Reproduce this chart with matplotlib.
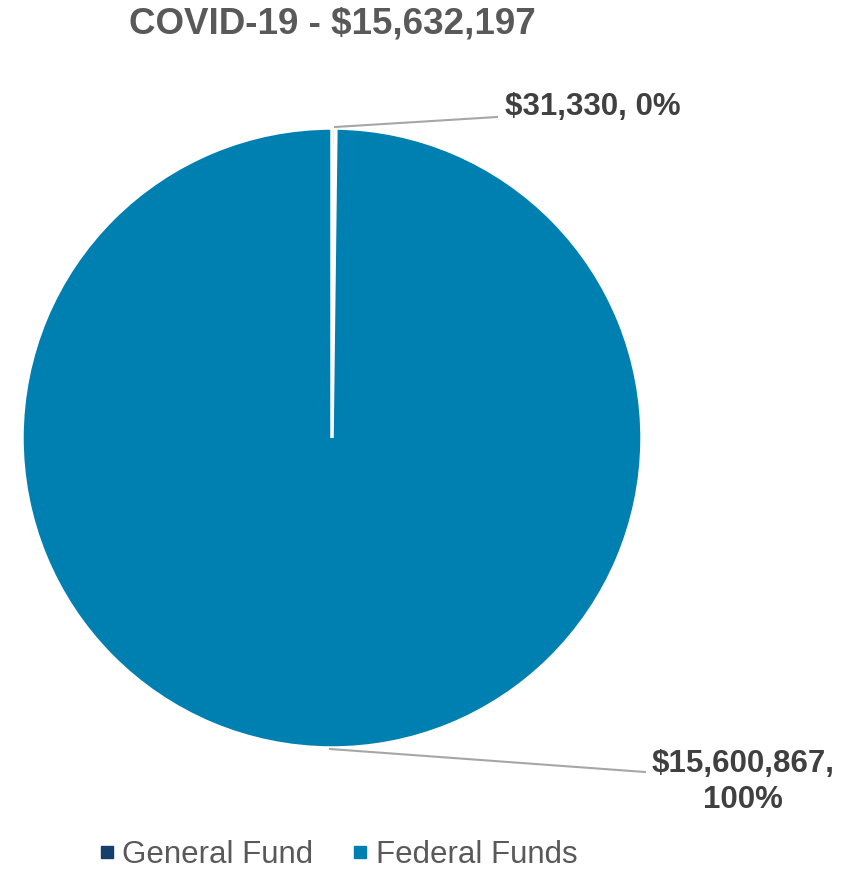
import matplotlib.pyplot as plt
from matplotlib.lines import Line2D

# 데이터
categories = ['General Fund', 'Federal Funds']
values = [31330, 15600867]
data_labels = ['$31,330, 0%', '$15,600,867,\n100%']
title = 'COVID-19 - $15,632,197'
colors = ['#16406C', '#0080B0']

plt.rcParams['font.family'] = ['Liberation Sans', 'DejaVu Sans']

fig = plt.figure(figsize=(8.64, 8.72), dpi=100)
W, H = 864, 872

# 파이 영역 (픽셀 기준 위치)
ax = fig.add_axes([22 / W, 1 - 748 / H, 620 / W, 620 / H])
ax.pie(values, colors=colors, startangle=90, counterclock=False, radius=1,
       wedgeprops=dict(edgecolor='white', linewidth=2.5))
ax.set_xlim(-1, 1)
ax.set_ylim(-1, 1)
ax.set_aspect('equal')
ax.axis('off')

# 제목
fig.text(332 / W, 1 - 24 / H, title, ha='center', va='center',
         fontsize=26.5, fontweight='bold', color='#595959')

# 데이터 라벨 + 지시선
lc = '#A6A6A6'
fig.add_artist(Line2D([335 / W, 497 / W], [1 - 127 / H, 1 - 117 / H],
                      color=lc, lw=1.5))
fig.text(505 / W, 1 - 107 / H, data_labels[0], ha='left', va='center',
         fontsize=22.5, fontweight='bold', color='#404040')

fig.add_artist(Line2D([330 / W, 645 / W], [1 - 749 / H, 1 - 772 / H],
                      color=lc, lw=1.5))
fig.text(743 / W, 1 - 782 / H, data_labels[1], ha='center', va='center',
         fontsize=22.5, fontweight='bold', color='#404040', linespacing=1.28)

# 범례
handles = [Line2D([], [], marker='s', linestyle='none', markersize=8,
                  markerfacecolor=c, markeredgecolor=c) for c in colors]
fig.legend(handles, categories, loc='center', bbox_to_anchor=(336 / W, 1 - 855 / H),
           ncol=2, frameon=False, fontsize=22.5, labelcolor='#595959',
           handletextpad=0.1, columnspacing=1.1, handlelength=0.8)

plt.savefig('out.png', dpi=100)
